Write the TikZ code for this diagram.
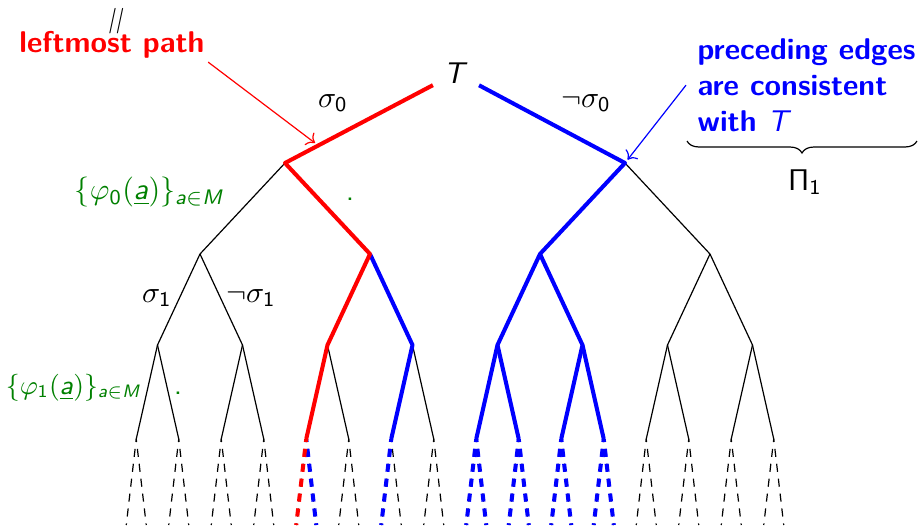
\documentclass[tikz,border=0pt]{standalone}
\usepackage{amsmath}
\usepackage{xcolor}
\usetikzlibrary{arrows.meta,calc,decorations.pathreplacing}
\DeclareMathAlphabet{\mathsfit}{OT1}{cmss}{m}{sl}
\colorlet{labgreen}{green!50!black}
\tikzset{
  treeedge/.style={thin, black},
  leftpath/.style={line width=1.35pt, red, line join=round},
  goodpath/.style={line width=1.35pt, blue, line join=round},
  treedash/.style={dash pattern=on 2.7pt off 2.3pt, dash phase=1.7pt},
  callout/.style={->, thin},
  setlab/.style={text=labgreen, inner sep=0pt},
  boldtext/.style={font=\fontsize{10}{12}\selectfont\sffamily\bfseries},
}

\begin{document}
\begin{tikzpicture}[
  x=0.3333pt, y=-0.3333pt,
  font=\fontsize{10}{12}\selectfont\sffamily,
]
  \useasboundingbox (0,0) rectangle (919,525);

  % tree vertices, heap numbering (v1 = root)
  \node[circle, minimum size=17pt, inner sep=0pt] (v1) at (456,73) {$\mathsfit{T}$};
  \foreach \d/\yy in {1/163,2/254,3/345,4/439} {
    \pgfmathtruncatemacro\first{2^\d}
    \pgfmathtruncatemacro\last{2^(\d+1)-1}
    \pgfmathsetmacro\gap{340/2^(\d-1)}
    \foreach \k in {\first,...,\last}
      \coordinate (v\k) at ({455+(\k-\first-(\first-1)/2)*\gap}, \yy);
  }

  % plain edges
  \foreach \k in {4,...,31} {
    \pgfmathtruncatemacro\p{\k/2}
    \draw[treeedge] (v\p) -- (v\k);
  }
  % dashed continuations below the leaves
  \foreach \k in {16,...,31} {
    \coordinate (w\k l) at ($(v\k)+(-10,86)$);
    \coordinate (w\k r) at ($(v\k)+(10,86)$);
    \draw[treeedge, treedash] (v\k) -- (w\k l);
    \draw[treeedge, treedash] (v\k) -- (w\k r);
  }

  % consistent edges
  \draw[goodpath] (v1) -- (v3) -- (v6) -- (v12) -- (v24);
  \draw[goodpath] (v12) -- (v25);
  \draw[goodpath] (v6) -- (v13) -- (v26);
  \draw[goodpath] (v13) -- (v27);
  \draw[goodpath] (v5) -- (v11) -- (v22);
  \foreach \k in {24,...,27} {
    \draw[goodpath, treedash] (v\k) -- (w\k l);
    \draw[goodpath, treedash] (v\k) -- (w\k r);
  }
  \draw[goodpath, treedash] (v22) -- (w22l);
  \draw[goodpath, treedash] (v20) -- (w20r);
  % leftmost path
  \draw[leftpath] (v1) -- (v2) -- (v5) -- (v10) -- (v20);
  \draw[leftpath, treedash] (v20) -- (w20l);

  % edge labels
  \node (sig0) at (333,103) {$\sigma_{\mathsf{0}}$};
  \node (nsig0) at (586,103) {$\neg\sigma_{\mathsf{0}}$};
  \node (sig1) at (157,298) {$\sigma_{\mathsf{1}}$};
  \node (nsig1) at (251,298) {$\neg\sigma_{\mathsf{1}}$};

  \node[setlab] (phi0) at (150,192)
    {$\{\varphi_{\mathsf{0}}\mathsf{(}\underline{\mathsfit{a}}\mathsf{)}\}_{\mathsfit{a}\in\mathsfit{M}}$};
  \node[setlab, font=\fontsize{9}{11}\selectfont] (phi1) at (74,388)
    {$\{\varphi_{\mathsf{1}}\mathsf{(}\underline{\mathsfit{a}}\mathsf{)}\}_{\mathsfit{a}\in\mathsfit{M}}$};
  \node[setlab] (dot0) at (350,199) {.};
  \node[setlab] (dot1) at (178,393) {.};

  % callouts
  \node[font=\fontsize{8.5}{9}\selectfont\sffamily\itshape, inner sep=0pt] (eq) at (115,21) {||};
  \node[text=red, boldtext, inner sep=1pt] (lmp) at (112,45) {leftmost path};
  \coordinate (lmtip) at (315,143);
  \draw[callout, red] (lmp.south east) -- (lmtip);

  \node[text=blue, boldtext, align=left,
    anchor=north west, inner xsep=3.7pt, inner ysep=0pt] (pre) at (686,38)
    {preceding edges\\are consistent\\with $\mathsfit{T}$};
  \draw[callout, blue, shorten >=1.4pt] (pre.west) -- (v3);

  \coordinate (br1) at (687,141);
  \coordinate (br2) at (917,141);
  \draw[decorate, decoration={brace, mirror, amplitude=4pt}] (br1) -- (br2);
  \node (pi1) at (805,182) {$\mathsf{\Pi}_{\mathsf{1}}$};
\end{tikzpicture}
\end{document}
